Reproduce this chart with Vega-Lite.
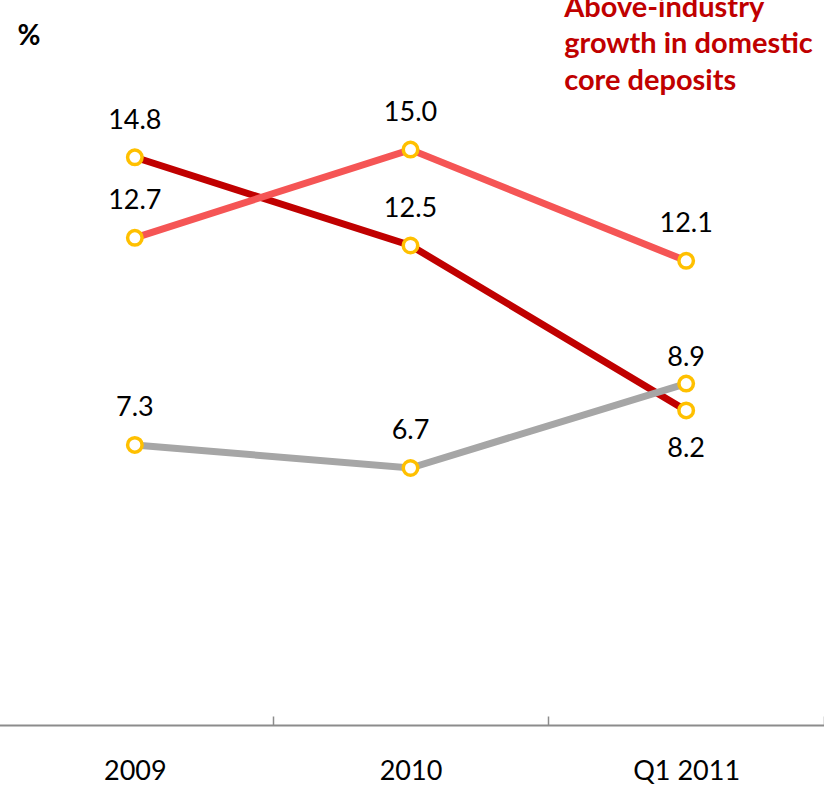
{
  "$schema": "https://vega.github.io/schema/vega-lite/v6.json",
  "width": 824,
  "height": 725,
  "autosize": "none",
  "padding": {"left": 0, "top": 0, "right": 0, "bottom": 62},
  "background": "white",
  "config": {"view": {"stroke": null}, "font": "Lato"},
  "datasets": {
    "series": [
      {"period": "2009", "series": "Series 1", "value": 14.8},
      {"period": "2010", "series": "Series 1", "value": 12.5},
      {"period": "Q1 2011", "series": "Series 1", "value": 8.2},
      {"period": "2009", "series": "Series 2", "value": 7.3},
      {"period": "2010", "series": "Series 2", "value": 6.7},
      {"period": "Q1 2011", "series": "Series 2", "value": 8.9},
      {"period": "2009", "series": "Series 3", "value": 12.7},
      {"period": "2010", "series": "Series 3", "value": 15.0},
      {"period": "Q1 2011", "series": "Series 3", "value": 12.1}
    ],
    "note": [
      {"period": "Q1 2011", "value": 18.46, "text": "Above-industry\ngrowth in domestic\ncore deposits"}
    ]
  },
  "data": {"name": "series"},
  "encoding": {
    "x": {
      "field": "period", "type": "nominal", "sort": ["2009", "2010", "Q1 2011"],
      "scale": {"type": "band", "range": [-3, 824], "paddingInner": 0, "paddingOuter": 0},
      "axis": {
        "title": null, "labelAngle": 0, "tickBand": "extent", "tickSize": -9,
        "tickColor": "#8c8c8c", "tickWidth": 1.5, "domainColor": "#8c8c8c", "domainWidth": 2,
        "labelFont": "Lato", "labelFontSize": 27, "labelColor": "#000000",
        "labelBaseline": "alphabetic", "labelPadding": 63, "grid": false
      }
    },
    "y": {
      "field": "value", "type": "quantitative",
      "scale": {"domain": [0, 18.9], "nice": false, "zero": true},
      "axis": {
        "title": "%", "titleAngle": 0, "titleAlign": "left", "titleBaseline": "middle",
        "titleX": 17, "titleY": 36, "titleFont": "Lato", "titleFontSize": 28, "titleFontWeight": "bold",
        "titleColor": "#000000", "domain": false, "ticks": false, "labels": false, "grid": false
      }
    }
  },
  "layer": [
    {
      "mark": {"type": "line", "strokeWidth": 7, "strokeCap": "butt"},
      "encoding": {
        "detail": {"field": "series"},
        "color": {
          "field": "series", "type": "nominal", "legend": null,
          "scale": {"domain": ["Series 1", "Series 2", "Series 3"], "range": ["#C00000", "#A6A6A6", "#F55555"]}
        },
        "order": {"field": "period"}
      }
    },
    {
      "mark": {"type": "point", "shape": "circle", "size": 210, "filled": false, "fill": "white", "fillOpacity": 1, "stroke": "#FFC000", "strokeWidth": 3.5, "opacity": 1}
    },
    {
      "transform": [{"filter": "datum.period != 'Q1 2011' || datum.series == 'Series 3'"}],
      "mark": {"type": "text", "baseline": "middle", "align": "center", "dy": -36.5, "fontSize": 27, "font": "Lato", "color": "#000000"},
      "encoding": {"text": {"field": "value", "type": "quantitative", "format": ".1f"}}
    },
    {
      "transform": [{"filter": "datum.series == 'Series 2' && datum.period == 'Q1 2011'"}],
      "mark": {"type": "text", "baseline": "middle", "align": "center", "dy": -26, "fontSize": 27, "font": "Lato", "color": "#000000"},
      "encoding": {"text": {"field": "value", "type": "quantitative", "format": ".1f"}}
    },
    {
      "transform": [{"filter": "datum.series == 'Series 1' && datum.period == 'Q1 2011'"}],
      "mark": {"type": "text", "baseline": "middle", "align": "center", "dy": 38.5, "fontSize": 27, "font": "Lato", "color": "#000000"},
      "encoding": {"text": {"field": "value", "type": "quantitative", "format": ".1f"}}
    },
    {
      "data": {"name": "note"},
      "mark": {"type": "text", "align": "left", "baseline": "alphabetic", "dx": -122, "fontSize": 29, "fontWeight": "bold", "font": "Lato", "color": "#C00000", "lineBreak": "\n", "lineHeight": 36.5},
      "encoding": {"text": {"field": "text"}}
    }
  ]
}
